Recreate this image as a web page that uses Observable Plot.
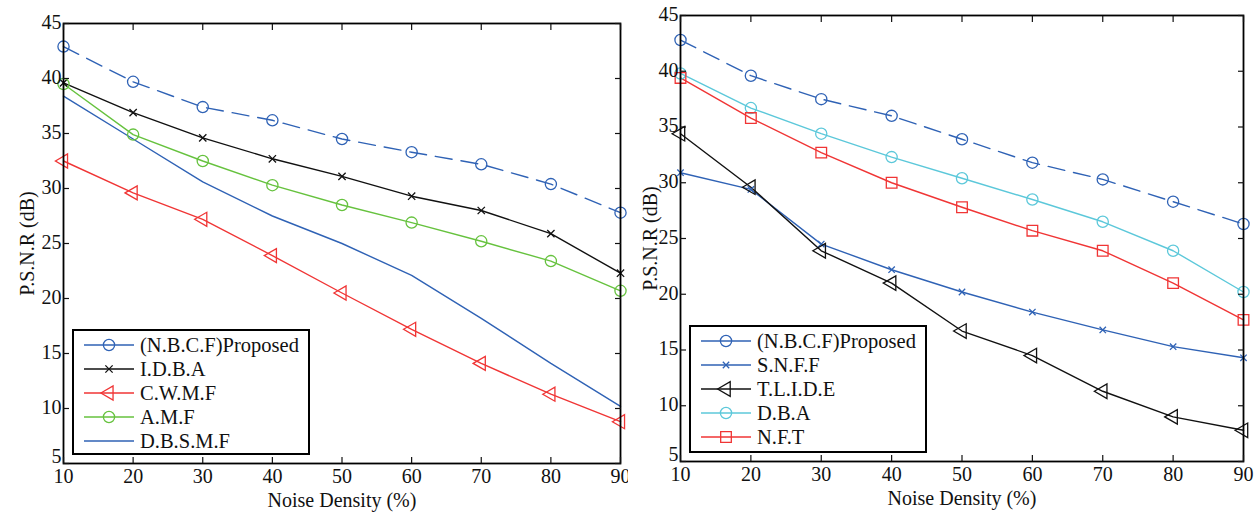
<!DOCTYPE html>
<html>
<head>
<meta charset="utf-8">
<script src="https://cdn.jsdelivr.net/npm/d3@7"></script>
<script src="https://cdn.jsdelivr.net/npm/@observablehq/plot@0.6"></script>
<style>
  body { margin: 0; background: #fff; }
  #wrap { position: relative; width: 1257px; height: 514px; font-family: "Liberation Serif", "DejaVu Serif", serif; }
  .panel { position: absolute; top: 0; height: 514px; }
  .legend { position: absolute; background: #fff; border: 2px solid #000; box-sizing: border-box; padding-top: 2px; }
  .row { display: flex; align-items: center; height: 24px; font-size: 20.5px; line-height: 24px; color: #111; white-space: nowrap; }
  .row svg { flex: none; }
  .row span { margin-left: 3px; }
</style>
</head>
<body>
<div id="wrap">
  <div class="panel" id="left" style="left:0;width:628px"></div>
  <div class="panel" id="right" style="left:628px;width:629px"></div>
</div>
<script>
// ---- data ----
const noise = [10, 20, 30, 40, 50, 60, 70, 80, 90];
const xTicks = [10, 20, 30, 40, 50, 60, 70, 80, 90];
const yTicks = [5, 10, 15, 20, 25, 30, 35, 40, 45];

// left panel series
const leftProposed = [42.9, 39.7, 37.4, 36.2, 34.5, 33.3, 32.2, 30.4, 27.8];
const idba        = [39.6, 36.9, 34.6, 32.7, 31.1, 29.3, 28.0, 25.9, 22.3];
const cwmf        = [32.5, 29.6, 27.2, 23.9, 20.5, 17.2, 14.1, 11.3, 8.8];
const amf         = [39.5, 34.9, 32.5, 30.3, 28.5, 26.9, 25.2, 23.4, 20.7];
const dbsmf       = [38.4, 34.5, 30.6, 27.5, 25.0, 22.1, 18.2, 14.1, 10.2];

// right panel series
const rightProposed = [42.8, 39.6, 37.5, 36.0, 33.9, 31.8, 30.3, 28.3, 26.3];
const snff          = [30.9, 29.4, 24.5, 22.2, 20.2, 18.4, 16.8, 15.3, 14.3];
const tlide         = [34.4, 29.6, 23.9, 21.0, 16.7, 14.5, 11.3, 9.0, 7.8];
const dba           = [39.8, 36.7, 34.4, 32.3, 30.4, 28.5, 26.5, 23.9, 20.2];
const nft           = [39.4, 35.8, 32.7, 30.0, 27.8, 25.7, 23.9, 21.0, 17.7];

const leftNames  = ["(N.B.C.F)Proposed", "I.D.B.A", "C.W.M.F", "A.M.F", "D.B.S.M.F"];
const rightNames = ["(N.B.C.F)Proposed", "S.N.F.F", "T.L.I.D.E", "D.B.A", "N.F.T"];

// ---- styles ----
const BLUE = "#2f62b5", BLACK = "#111111", RED = "#f03535", GREEN = "#66c23e", CYAN = "#5cc8da";

const leftSeries = [
  {name: leftNames[0], values: leftProposed, color: BLUE,  dash: "17,9", symbol: "circle",   r: 5.6},
  {name: leftNames[1], values: idba,         color: BLACK, dash: null,   symbol: "times",    r: 3.4},
  {name: leftNames[2], values: cwmf,         color: RED,   dash: null,   symbol: "triangle", r: 5.2, rotate: -90},
  {name: leftNames[3], values: amf,          color: GREEN, dash: null,   symbol: "circle",   r: 5.6},
  {name: leftNames[4], values: dbsmf,        color: BLUE,  dash: null,   symbol: null}
];
const rightSeries = [
  {name: rightNames[0], values: rightProposed, color: BLUE,  dash: "17,9", symbol: "circle",   r: 5.6},
  {name: rightNames[1], values: snff,          color: BLUE,  dash: null,   symbol: "times",    r: 3.0},
  {name: rightNames[2], values: tlide,         color: BLACK, dash: null,   symbol: "triangle", r: 5.4, rotate: -90},
  {name: rightNames[3], values: dba,           color: CYAN,  dash: null,   symbol: "circle",   r: 5.6},
  {name: rightNames[4], values: nft,           color: RED,   dash: null,   symbol: "square",   r: 6.0}
];

const FONT = "'Liberation Serif', 'DejaVu Serif', serif";

function makeChart(series, opts) {
  const marks = [];
  for (const s of series) {
    const rows = noise.map((x, i) => ({x, y: s.values[i]}));
    marks.push(Plot.line(rows, {x: "x", y: "y", stroke: s.color, strokeWidth: 1.4,
      strokeDasharray: s.dash || undefined}));
  }
  for (const s of series) {
    if (!s.symbol) continue;
    const rows = noise.map((x, i) => ({x, y: s.values[i]}));
    marks.push(Plot.dot(rows, {x: "x", y: "y", stroke: s.color, fill: "none", strokeWidth: 1.3,
      symbol: s.symbol, r: s.r, rotate: s.rotate || 0}));
  }
  const textOpts = {fontFamily: FONT, fontSize: 20, fill: "#111"};
  marks.push(
    Plot.frame({stroke: "#000", strokeWidth: 1.8}),
    Plot.axisX({anchor: "bottom", ticks: xTicks, tickSize: -6, tickFormat: () => "", label: null, strokeWidth: 1.2}),
    Plot.axisX({anchor: "top", ticks: xTicks, tickSize: -6, tickFormat: () => "", label: null, strokeWidth: 1.2}),
    Plot.axisY({anchor: "left", ticks: yTicks, tickSize: -6, tickFormat: () => "", label: null, strokeWidth: 1.2}),
    Plot.axisY({anchor: "right", ticks: yTicks, tickSize: -6, tickFormat: () => "", label: null, strokeWidth: 1.2}),
    Plot.axisX({anchor: "bottom", ticks: xTicks, tickSize: 0, tickPadding: 5, tickFormat: d => String(d),
      label: "Noise Density (%)", labelAnchor: "center", labelOffset: 43, labelArrow: "none", ...textOpts}),
    // lowest y tick label nudged up (as in the reference) so it clears the first x label
    Plot.axisY({anchor: "left", ticks: yTicks.slice(0, 1), tickSize: 0, tickPadding: 2, dy: -7,
      tickFormat: d => String(d), label: null, ...textOpts}),
    Plot.axisY({anchor: "left", ticks: yTicks.slice(1), tickSize: 0, tickPadding: 2, dy: -1, tickFormat: d => String(d),
      label: "P.S.N.R (dB)", labelAnchor: "center", labelOffset: opts.labelOffsetY, labelArrow: "none", ...textOpts})
  );
  return Plot.plot({
    width: opts.width,
    height: 514,
    marginLeft: opts.marginLeft,
    marginRight: opts.marginRight,
    marginTop: opts.marginTop,
    marginBottom: opts.marginBottom,
    x: {domain: [10, 90]},
    y: {domain: [5, 45]},
    style: {fontFamily: FONT, fontSize: "20px", color: "#111", background: "white", overflow: "visible"},
    marks
  });
}

function makeLegend(series, pos) {
  const div = document.createElement("div");
  div.className = "legend";
  Object.assign(div.style, {left: pos.left + "px", top: pos.top + "px", width: pos.width + "px", height: pos.height + "px"});
  for (const s of series) {
    const row = document.createElement("div");
    row.className = "row";
    const svg = d3.create("svg").attr("width", 63).attr("height", 24);
    svg.append("line").attr("x1", 10).attr("x2", 60).attr("y1", 12).attr("y2", 12)
      .attr("stroke", s.color).attr("stroke-width", 1.4);
    if (s.symbol) {
      const typeMap = {circle: d3.symbolCircle, times: d3.symbolTimes, triangle: d3.symbolTriangle, square: d3.symbolSquare};
      svg.append("path")
        .attr("d", d3.symbol(typeMap[s.symbol], s.r * s.r * Math.PI)())
        .attr("transform", `translate(35,12) rotate(${s.rotate || 0})`)
        .attr("fill", "none").attr("stroke", s.color).attr("stroke-width", 1.3);
    }
    row.appendChild(svg.node());
    const sp = document.createElement("span");
    sp.textContent = s.name;
    row.appendChild(sp);
    div.appendChild(row);
  }
  return div;
}

const left = document.getElementById("left");
left.appendChild(makeChart(leftSeries, {width: 628, marginLeft: 63, marginRight: 8, marginTop: 23, marginBottom: 51, labelOffsetY: 44}));
left.appendChild(makeLegend(leftSeries, {left: 72, top: 329, width: 238, height: 126}));

const right = document.getElementById("right");
right.appendChild(makeChart(rightSeries, {width: 629, marginLeft: 52, marginRight: 14, marginTop: 15, marginBottom: 53, labelOffsetY: 38}));
right.appendChild(makeLegend(rightSeries, {left: 61, top: 325, width: 238, height: 128}));
</script>
</body>
</html>
